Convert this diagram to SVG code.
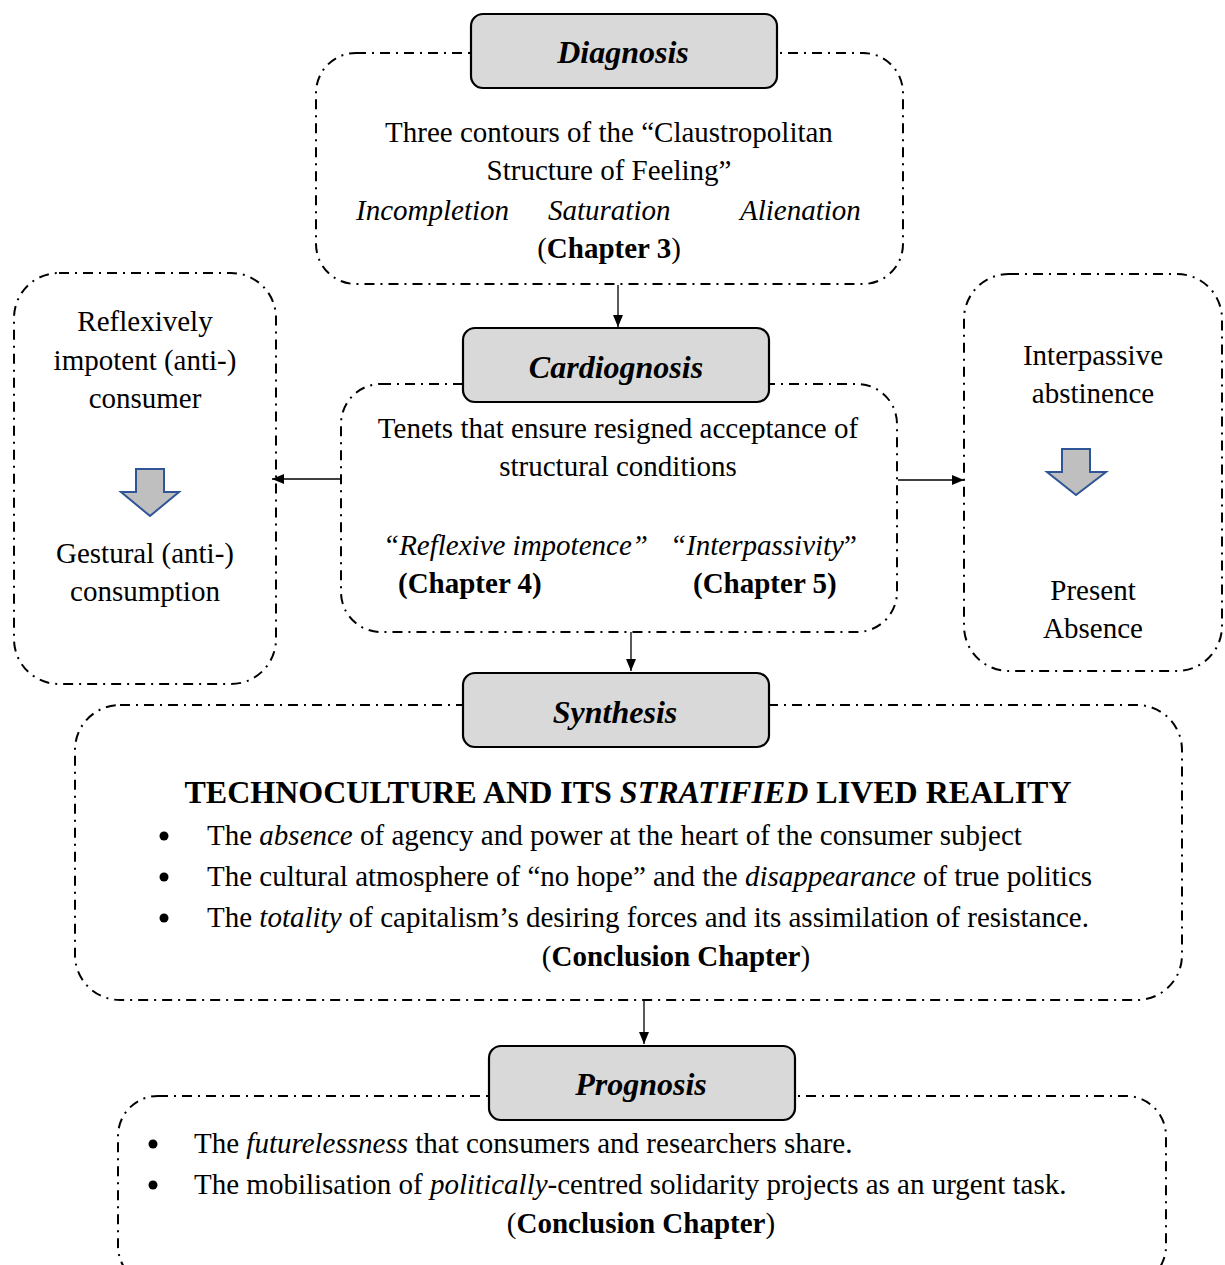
<svg xmlns="http://www.w3.org/2000/svg" width="1225" height="1265" viewBox="0 0 1225 1265">
<defs>
<style>
.frame{fill:none;stroke:#000;stroke-width:2;stroke-dasharray:10 6 2 6}
.head{fill:#d9d9d9;stroke:#000;stroke-width:2.2}
.ht{font-family:"Liberation Serif",serif;font-size:32px;font-weight:bold;font-style:italic;text-anchor:middle;fill:#000}
.t{font-family:"Liberation Serif",serif;font-size:29px;fill:#000}
.c{text-anchor:middle}
.i{font-style:italic}
.b{font-weight:bold}
.conn{stroke:#000;stroke-width:1.3;fill:none}
.blk{fill:#bfbfbf;stroke:#2f5597;stroke-width:2}
</style>
<marker id="ah" markerWidth="12" markerHeight="10" refX="12" refY="5" orient="auto" markerUnits="userSpaceOnUse">
<path d="M0,0 L12,5 L0,10 Z" fill="#000"/>
</marker>
</defs>

<g id="connectors">
<line class="conn" x1="618" y1="285" x2="618" y2="327" marker-end="url(#ah)"/>
<line class="conn" x1="341" y1="479" x2="272" y2="479" marker-end="url(#ah)"/>
<line class="conn" x1="898" y1="480" x2="964" y2="480" marker-end="url(#ah)"/>
<line class="conn" x1="631" y1="632" x2="631" y2="671" marker-end="url(#ah)"/>
<line class="conn" x1="644" y1="1001" x2="644" y2="1044" marker-end="url(#ah)"/>
</g>

<g id="diagnosis">
<rect class="frame" x="316" y="53" width="587" height="231" rx="40"/>
<rect class="head" x="471" y="14" width="306" height="74" rx="12"/>
<text class="ht" x="623" y="63">Diagnosis</text>
<text class="t c" x="609" y="142">Three contours of the “Claustropolitan</text>
<text class="t c" x="609" y="180">Structure of Feeling”</text>
<text class="t i" x="356" y="220">Incompletion</text>
<text class="t i" x="548" y="220">Saturation</text>
<text class="t i" x="740" y="220">Alienation</text>
<text class="t c" x="609" y="258">(<tspan class="b">Chapter 3</tspan>)</text>
</g>

<g id="cardiognosis">
<rect class="frame" x="341" y="384" width="556" height="248" rx="40"/>
<rect class="head" x="463" y="328" width="306" height="74" rx="12"/>
<text class="ht" x="616" y="378">Cardiognosis</text>
<text class="t c" x="618" y="438">Tenets that ensure resigned acceptance of</text>
<text class="t c" x="618" y="476">structural conditions</text>
<text class="t i" x="383" y="555">“Reflexive impotence”</text>
<text class="t" x="670" y="555"><tspan class="i">“Interpassivity</tspan>”</text>
<text class="t b" x="398" y="593">(Chapter 4)</text>
<text class="t b" x="693" y="593">(Chapter 5)</text>
</g>

<g id="left-box">
<rect class="frame" x="14" y="273" width="262" height="411" rx="45"/>
<text class="t c" x="145" y="331">Reflexively</text>
<text class="t c" x="145" y="370">impotent (anti-)</text>
<text class="t c" x="145" y="408">consumer</text>
<path class="blk" d="M136,469 L164,469 L164,492 L179,492 L150,516 L121,492 L136,492 Z"/>
<text class="t c" x="145" y="563">Gestural (anti-)</text>
<text class="t c" x="145" y="601">consumption</text>
</g>

<g id="right-box">
<rect class="frame" x="964" y="274" width="258" height="397" rx="45"/>
<text class="t c" x="1093" y="365">Interpassive</text>
<text class="t c" x="1093" y="403">abstinence</text>
<path class="blk" d="M1062,449 L1090,449 L1090,472 L1106,472 L1076,495 L1047,472 L1062,472 Z"/>
<text class="t c" x="1093" y="600">Present</text>
<text class="t c" x="1093" y="638">Absence</text>
</g>

<g id="synthesis">
<rect class="frame" x="75" y="705" width="1107" height="295" rx="45"/>
<rect class="head" x="463" y="673" width="306" height="74" rx="12"/>
<text class="ht" x="615" y="723">Synthesis</text>
<text class="t c b" x="628" y="803" style="font-size:32px">TECHNOCULTURE AND ITS <tspan class="i">STRATIFIED</tspan> LIVED REALITY</text>
<circle cx="164" cy="836" r="4.5"/>
<circle cx="164" cy="877" r="4.5"/>
<circle cx="164" cy="918" r="4.5"/>
<text class="t" x="207" y="845">The <tspan class="i">absence</tspan> of agency and power at the heart of the consumer subject</text>
<text class="t" x="207" y="886">The cultural atmosphere of “no hope” and the <tspan class="i">disappearance</tspan> of true politics</text>
<text class="t" x="207" y="927">The <tspan class="i">totality</tspan> of capitalism’s desiring forces and its assimilation of resistance.</text>
<text class="t c" x="676" y="966">(<tspan class="b">Conclusion Chapter</tspan>)</text>
</g>

<g id="prognosis">
<rect class="frame" x="118" y="1096" width="1048" height="190" rx="40"/>
<rect class="head" x="489" y="1046" width="306" height="74" rx="12"/>
<text class="ht" x="641" y="1095">Prognosis</text>
<circle cx="153" cy="1144" r="4.5"/>
<circle cx="153" cy="1185" r="4.5"/>
<text class="t" x="194" y="1153">The <tspan class="i">futurelessness</tspan> that consumers and researchers share.</text>
<text class="t" x="194" y="1194">The mobilisation of <tspan class="i">politically</tspan>-centred solidarity projects as an urgent task.</text>
<text class="t c" x="641" y="1233">(<tspan class="b">Conclusion Chapter</tspan>)</text>
</g>
</svg>
